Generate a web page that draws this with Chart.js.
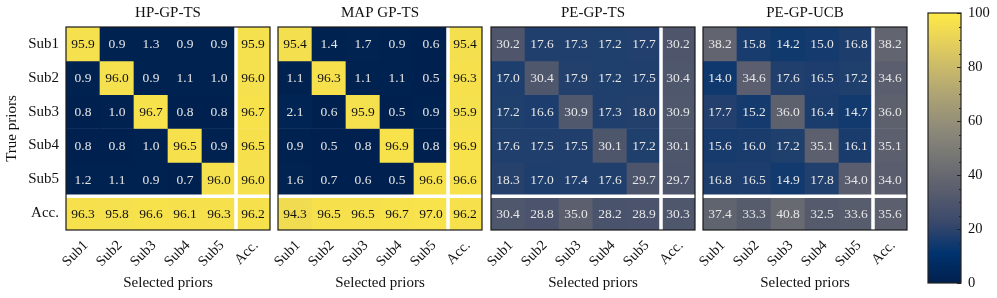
<!DOCTYPE html>
<html>
<head>
<meta charset="utf-8">
<script src="https://cdn.jsdelivr.net/npm/chart.js@4.4.0/dist/chart.umd.min.js"></script>
<style>
body{margin:0;background:#fff;}
#wrap{position:relative;width:997px;height:298px;overflow:hidden;}
canvas{position:absolute;top:0;}
</style>
</head>
<body>
<div id="wrap">
<canvas id="c1" width="272" height="298" style="left:0px"></canvas>
<canvas id="c2" width="238" height="298" style="left:248px"></canvas>
<canvas id="c3" width="238" height="298" style="left:461px"></canvas>
<canvas id="c4" width="238" height="298" style="left:673px"></canvas>
<canvas id="cb" width="77" height="298" style="left:920px"></canvas>
</div>
<script>
// row / column names (true priors x selected priors)
const priors=['Sub1','Sub2','Sub3','Sub4','Sub5','Acc.'];
const titles=['HP-GP-TS','MAP GP-TS','PE-GP-TS','PE-GP-UCB'];

const hpGpTs=[
  [95.9,0.9,1.3,0.9,0.9,95.9],
  [0.9,96.0,0.9,1.1,1.0,96.0],
  [0.8,1.0,96.7,0.8,0.8,96.7],
  [0.8,0.8,1.0,96.5,0.9,96.5],
  [1.2,1.1,0.9,0.7,96.0,96.0],
  [96.3,95.8,96.6,96.1,96.3,96.2]
];
const mapGpTs=[
  [95.4,1.4,1.7,0.9,0.6,95.4],
  [1.1,96.3,1.1,1.1,0.5,96.3],
  [2.1,0.6,95.9,0.5,0.9,95.9],
  [0.9,0.5,0.8,96.9,0.8,96.9],
  [1.6,0.7,0.6,0.5,96.6,96.6],
  [94.3,96.5,96.5,96.7,97.0,96.2]
];
const peGpTs=[
  [30.2,17.6,17.3,17.2,17.7,30.2],
  [17.0,30.4,17.9,17.2,17.5,30.4],
  [17.2,16.6,30.9,17.3,18.0,30.9],
  [17.6,17.5,17.5,30.1,17.2,30.1],
  [18.3,17.0,17.4,17.6,29.7,29.7],
  [30.4,28.8,35.0,28.2,28.9,30.3]
];
const peGpUcb=[
  [38.2,15.8,14.2,15.0,16.8,38.2],
  [14.0,34.6,17.6,16.5,17.2,34.6],
  [17.7,15.2,36.0,16.4,14.7,36.0],
  [15.6,16.0,17.2,35.1,16.1,35.1],
  [16.8,16.5,14.9,17.8,34.0,34.0],
  [37.4,33.3,40.8,32.5,33.6,35.6]
];
const cbTicks=[0,20,40,60,80,100];

// cividis colormap, 10 evenly spaced stops
const cividisStops=['#00204D','#00336F','#39486B','#575C6D','#707173','#8A8779','#A69D75','#C4B56C','#E4CF5B','#FFEA46'];

Chart.defaults.font.family='"Liberation Serif", "DejaVu Serif", serif';
Chart.defaults.color='#111';

const hex2rgb=(h)=>[parseInt(h.substr(1,2),16),parseInt(h.substr(3,2),16),parseInt(h.substr(5,2),16)];
const cividis=(v)=>{
  var t=Math.max(0,Math.min(1,v/100))*(cividisStops.length-1);
  var i=Math.min(Math.floor(t),cividisStops.length-2);
  var f=t-i;
  const a=hex2rgb(cividisStops[i]),b=hex2rgb(cividisStops[i+1]);
  return 'rgb('+a.map((c,k)=>Math.round(c+(b[k]-c)*f)).join(',')+')';
};

const heatPlugin={
  id:'heat',
  afterDatasetsDraw(chart){
    const c=chart.ctx,x=chart.scales.x,y=chart.scales.y,a=chart.chartArea;
    c.save();
    // white separators before the Acc. row / column
    const xs=(x.getPixelForValue(4)+x.getPixelForValue(5))/2, ys=y.getPixelForValue(5);
    c.strokeStyle='#fff';c.lineWidth=3.5;
    c.beginPath();
    c.moveTo(xs,a.top);c.lineTo(xs,a.bottom);
    c.moveTo(a.left,ys);c.lineTo(a.right,ys);
    c.stroke();
    // cell values
    c.font='13.5px "Liberation Serif", serif';
    c.textAlign='center';c.textBaseline='middle';
    chart.data.datasets.forEach((ds,r)=>{
      chart.getDatasetMeta(r).data.forEach((bar,k)=>{
        const v=ds.values[k];
        c.fillStyle=v>50?'#111':'#e6e6e6';
        c.fillText(v.toFixed(1),bar.x,(bar.y+bar.base)/2+1);
      });
    });
    // frame
    c.strokeStyle='#1a1a1a';c.lineWidth=1.2;
    c.strokeRect(a.left,a.top,a.width,a.height);
    c.restore();
  }
};

const renderHeat=(id,title,values,first)=>{
  var ctx=document.getElementById(id).getContext('2d');
  var datasets=values.map((row,r)=>({
    data:row.map(()=>[r,r+1]),
    values:row,
    backgroundColor:row.map(cividis),
    borderWidth:0,
    barPercentage:1,
    categoryPercentage:1,
    grouped:false
  }));
  return new Chart(ctx,{
    type:'bar',
    data:{labels:priors,datasets:datasets},
    options:{
      responsive:false,animation:false,devicePixelRatio:1,
      layout:{padding:first?{left:0,right:2,top:0,bottom:0}:{left:30,right:4,top:0,bottom:0}},
      plugins:{
        legend:{display:false},tooltip:{enabled:false},
        title:{display:true,fullSize:false,text:title,font:{size:15,weight:'normal',lineHeight:1.2},padding:{top:4,bottom:5},color:'#111'}
      },
      scales:{
        x:{
          type:'category',
          grid:{display:false,drawTicks:false},border:{display:false},
          ticks:{maxRotation:45,minRotation:45,autoSkip:false,padding:7,labelOffset:3,font:{size:14.5},color:'#111'},
          title:{display:true,text:'Selected priors',font:{size:15,lineHeight:1.2},padding:{top:0,bottom:6},color:'#111'},
          afterFit:(s)=>{s.height=68;s.paddingLeft=0;s.paddingRight=0;}
        },
        y:{
          display:first,
          type:'linear',min:0,max:6,reverse:true,stacked:false,
          grid:{display:false,drawTicks:false},border:{display:false},
          afterBuildTicks:(s)=>{s.ticks=priors.map((p,i)=>({value:i+0.5}));},
          ticks:{autoSkip:false,padding:7,font:{size:15},color:'#111',callback:(v,i)=>priors[i]},
          title:{display:true,text:'True priors',font:{size:15,lineHeight:1.2},padding:{top:3,bottom:0},color:'#111'},
          afterFit:(s)=>{s.width=first?66:0;s.paddingTop=0;s.paddingBottom=0;}
        }
      }
    },
    plugins:[heatPlugin]
  });
};

const cbPlugin={
  id:'cbar',
  afterDatasetsDraw(chart){
    const c=chart.ctx,y=chart.scales.y,a=chart.chartArea;
    c.save();
    c.strokeStyle='#222';c.lineWidth=1;
    for(var v=0;v<=100;v+=5){
      var py=Math.round(y.getPixelForValue(v))+0.5;
      var len=v%20===0?4:2;
      c.beginPath();c.moveTo(a.right-len,py);c.lineTo(a.right,py);c.stroke();
    }
    c.lineWidth=1.2;
    c.strokeRect(a.left,a.top,a.width,a.height);
    c.restore();
  }
};

const renderColorbar=()=>{
  var ctx=document.getElementById('cb').getContext('2d');
  return new Chart(ctx,{
    type:'bar',
    data:{labels:[''],datasets:[{
      data:[[0,100]],
      borderWidth:0,barPercentage:1,categoryPercentage:1,
      backgroundColor:(context)=>{
        const chart=context.chart,area=chart.chartArea;
        if(!area) return cividisStops[0];
        const g=chart.ctx.createLinearGradient(0,area.bottom,0,area.top);
        cividisStops.forEach((s,i)=>g.addColorStop(i/(cividisStops.length-1),s));
        return g;
      }
    }]},
    options:{
      responsive:false,animation:false,devicePixelRatio:1,
      layout:{padding:{left:8,right:0,top:13,bottom:15}},
      plugins:{legend:{display:false},tooltip:{enabled:false}},
      scales:{
        x:{display:false},
        y:{
          position:'right',min:0,max:100,
          grid:{display:false,drawTicks:false},border:{display:false},
          afterBuildTicks:(s)=>{s.ticks=cbTicks.map(v=>({value:v}));},
          ticks:{padding:7,font:{size:14.5},color:'#111'},
          afterFit:(s)=>{s.width=36;s.paddingTop=0;s.paddingBottom=0;}
        }
      }
    },
    plugins:[cbPlugin]
  });
};

renderHeat('c1',titles[0],hpGpTs,true);
renderHeat('c2',titles[1],mapGpTs,false);
renderHeat('c3',titles[2],peGpTs,false);
renderHeat('c4',titles[3],peGpUcb,false);
renderColorbar();
</script>
</body>
</html>
